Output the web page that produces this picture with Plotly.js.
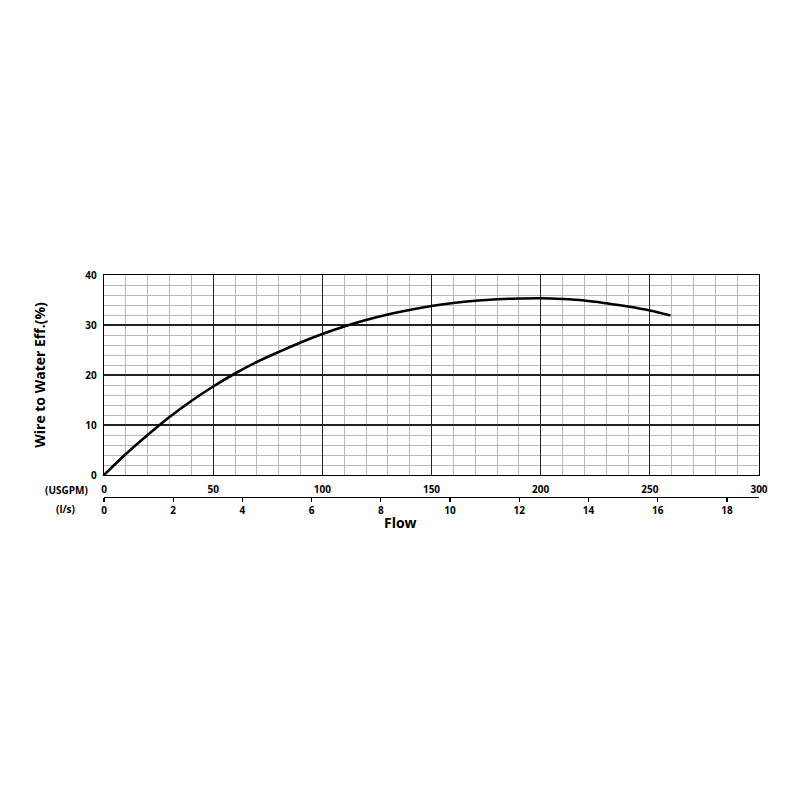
<!DOCTYPE html>
<html>
<head>
<meta charset="utf-8">
<script src="https://cdn.plot.ly/plotly-3.0.1.min.js"></script>
<style>html,body{margin:0;padding:0;background:#fff;}#chart{width:800px;height:800px;}</style>
</head>
<body>
<div id="chart"></div>
<script>
// Flow in USGPM and wire-to-water efficiency in %
const flowUSGPM = [0, 10, 20, 30, 40, 50, 60, 70, 80, 90, 100, 110, 120, 130, 140, 150, 160, 170, 180, 190, 200, 210, 220, 230, 240, 250, 259.5];
const efficiency = [0, 4.2, 8.0, 11.6, 14.8, 17.7, 20.3, 22.6, 24.6, 26.5, 28.2, 29.7, 31.0, 32.1, 33.0, 33.8, 34.4, 34.85, 35.15, 35.3, 35.35, 35.2, 34.9, 34.35, 33.7, 32.9, 31.9];
const usgpmTicks = [0, 50, 100, 150, 200, 250, 300];
const lsTicks = [0, 2, 4, 6, 8, 10, 12, 14, 16, 18];
const yTicks = [0, 10, 20, 30, 40];
const usgpmToLs = 0.0630902;

const font = "'Open Sans', 'Liberation Sans', sans-serif";

const trace = {
  x: flowUSGPM, y: efficiency, type: 'scatter', mode: 'lines',
  line: {color: '#000', width: 2.6, shape: 'spline', smoothing: 1},
  hoverinfo: 'skip', showlegend: false
};
// invisible trace on second axis so it renders
const trace2 = {
  x: [0, 300 * usgpmToLs], y: [null, null], xaxis: 'x2', yaxis: 'y',
  type: 'scatter', mode: 'lines', showlegend: false, hoverinfo: 'skip'
};

const layout = {
  width: 800, height: 800,
  margin: {l: 104, r: 41, t: 275, b: 303},
  paper_bgcolor: '#fff', plot_bgcolor: '#fff',
  font: {family: font, color: '#000'},
  showlegend: false,
  xaxis: {
    range: [0, 300], tickvals: usgpmTicks, ticktext: usgpmTicks.map(String),
    showgrid: true, gridcolor: '#222', gridwidth: 1.1,
    minor: {dtick: 10, tick0: 0, showgrid: true, gridcolor: '#b8b8b8', gridwidth: 1},
    showline: true, linecolor: '#000', linewidth: 1.2, mirror: true,
    ticks: '', ticklen: 0, zeroline: false, ticklabelstandoff: 5,
    tickfont: {size: 10, family: font, weight: 'bold'},
    anchor: 'y', fixedrange: true
  },
  xaxis2: {
    overlaying: 'x', anchor: 'free', position: 0, side: 'bottom',
    range: [0, 300 * usgpmToLs], tickvals: lsTicks, ticktext: lsTicks.map(String),
    showgrid: false, showline: true, linecolor: '#000', linewidth: 1.2,
    ticks: 'outside', ticklen: 4, tickcolor: '#000', tickwidth: 1.2,
    tickfont: {size: 10, family: font, weight: 'bold'}, zeroline: false,
    fixedrange: true
  },
  yaxis: {
    domain: [0.0991, 1], range: [0, 40], tickvals: yTicks, ticktext: yTicks.map(String),
    showgrid: true, gridcolor: '#222', gridwidth: 1.1,
    minor: {dtick: 2, tick0: 0, showgrid: true, gridcolor: '#b8b8b8', gridwidth: 1},
    showline: true, linecolor: '#000', linewidth: 1.2, mirror: true,
    ticks: '', zeroline: false, ticklabelstandoff: 4,
    tickfont: {size: 10, family: font, weight: 'bold'},
    title: {text: 'Wire to Water Eff.(%)', font: {size: 14, family: font, weight: 'bold'}, standoff: 36},
    fixedrange: true
  },
  annotations: [
    {text: '(USGPM)', xref: 'paper', yref: 'paper', x: -0.021, y: 0.0315, xanchor: 'right', yanchor: 'middle', showarrow: false, font: {size: 10, family: font, weight: 'bold'}},
    {text: '(l/s)', xref: 'paper', yref: 'paper', x: -0.041, y: -0.054, xanchor: 'right', yanchor: 'middle', showarrow: false, font: {size: 10, family: font, weight: 'bold'}},
    {text: 'Flow', xref: 'paper', yref: 'paper', x: 0.452, y: -0.117, xanchor: 'center', yanchor: 'middle', showarrow: false, font: {size: 14, family: font, weight: 'bold'}}
  ]
};

Plotly.newPlot('chart', [trace, trace2], layout, {displayModeBar: false, staticPlot: true});
</script>
</body>
</html>
